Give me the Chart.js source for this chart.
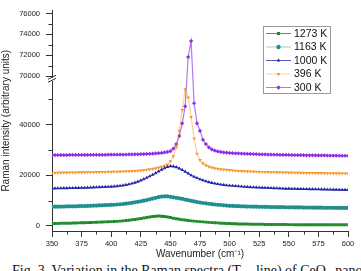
<!DOCTYPE html>
<html>
<head>
<meta charset="utf-8">
<script src="https://cdn.jsdelivr.net/npm/chart.js@4.4.1/dist/chart.umd.min.js"></script>
<style>
  body { margin: 0; background: #fff; width: 361px; height: 271px; overflow: hidden; position: relative; }
  #wrap { position: absolute; left: 0; top: 0; width: 361px; height: 262px; }
  #caption { position: absolute; left: 12px; top: 263px; font: 14px "Liberation Serif", "Times New Roman", serif; line-height: 15px; white-space: nowrap; color: #111; }
</style>
</head>
<body>
<div id="wrap"><canvas id="grafico"></canvas></div>
<div id="caption">Fig. 3. Variation in the Raman spectra (T<sub>2g</sub> line) of CeO<sub>2</sub> nanoparticles</div>
<script>
// sampling grid of the spectra (cm-1)
const wavenumbers = [];
for (let w = 350; w <= 600; w += 2.5) wavenumbers.push(w);

const seriesLabels = ['1273 K', '1163 K', '1000 K', '396 K', '300 K'];

const k1273 = [
  1000, 1000, 1000, 1050, 1050, 1100, 1100, 1150, 1150, 1200,
  1250, 1250, 1300, 1350, 1400, 1450, 1500, 1550, 1600, 1650,
  1700, 1750, 1800, 1900, 2000, 2100, 2250, 2400, 2550, 2700,
  2900, 3100, 3300, 3500, 3700, 3850, 3900, 3850, 3700, 3500,
  3300, 3050, 2850, 2650, 2450, 2300, 2150, 2000, 1900, 1800,
  1700, 1600, 1500, 1400, 1300, 1250, 1200, 1100, 1050, 1000,
  950, 900, 850, 800, 780, 750, 720, 700, 680, 660,
  640, 620, 600, 590, 580, 570, 560, 550, 540, 530,
  520, 510, 500, 500, 490, 490, 480, 480, 470, 470,
  470, 460, 460, 460, 450, 450, 450, 450, 440, 440,
  440
];
const k1163 = [
  7600, 7600, 7600, 7650, 7650, 7700, 7700, 7750, 7750, 7800,
  7850, 7850, 7900, 7950, 8000, 8050, 8100, 8150, 8200, 8250,
  8300, 8350, 8450, 8550, 8650, 8800, 8950, 9100, 9300, 9500,
  9700, 9950, 10200, 10500, 10800, 11100, 11400, 11600, 11700, 11650,
  11500, 11300, 11100, 10900, 10650, 10400, 10150, 9900, 9650, 9450,
  9250, 9050, 8900, 8750, 8600, 8450, 8350, 8250, 8150, 8050,
  7950, 7900, 7850, 7800, 7750, 7700, 7650, 7650, 7600, 7600,
  7550, 7550, 7500, 7500, 7450, 7450, 7400, 7400, 7400, 7350,
  7350, 7350, 7300, 7300, 7300, 7250, 7250, 7250, 7200, 7200,
  7200, 7200, 7150, 7150, 7150, 7150, 7100, 7100, 7100, 7100,
  7100
];
const k1000 = [
  14800, 14800, 14850, 14850, 14900, 14900, 14950, 14950, 15000, 15000,
  15050, 15050, 15100, 15150, 15200, 15250, 15300, 15350, 15400, 15450,
  15500, 15600, 15700, 15850, 16000, 16200, 16450, 16750, 17100, 17500,
  17950, 18450, 19000, 19600, 20200, 20800, 21500, 22200, 22800, 23300,
  23600, 23500, 23200, 22700, 22100, 21400, 20700, 20000, 19400, 18900,
  18400, 18000, 17600, 17300, 17000, 16750, 16550, 16350, 16200, 16050,
  15950, 15850, 15750, 15650, 15550, 15450, 15400, 15300, 15250, 15200,
  15150, 15100, 15050, 15000, 14950, 14900, 14850, 14800, 14750, 14700,
  14700, 14650, 14650, 14600, 14600, 14550, 14550, 14500, 14500, 14450,
  14450, 14400, 14400, 14350, 14350, 14300, 14300, 14250, 14250, 14200,
  14200
];
const k396 = [
  21000, 21000, 21000, 21050, 21050, 21050, 21100, 21100, 21100, 21150,
  21150, 21150, 21200, 21200, 21200, 21250, 21250, 21300, 21300, 21350,
  21350, 21400, 21400, 21450, 21500, 21550, 21600, 21650, 21700, 21800,
  21900, 22000, 22100, 22300, 22500, 22700, 23000, 23300, 23700, 24200,
  25500, 27500, 31000, 37500, 45700, 53900, 50700, 43000, 34500, 28500,
  26000, 24700, 23900, 23400, 23000, 22700, 22500, 22300, 22200, 22100,
  22000, 21900, 21800, 21700, 21650, 21600, 21550, 21500, 21450, 21400,
  21350, 21300, 21300, 21250, 21200, 21200, 21150, 21150, 21100, 21100,
  21050, 21050, 21000, 21000, 20950, 20950, 20900, 20900, 20900, 20850,
  20850, 20850, 20800, 20800, 20800, 20750, 20750, 20750, 20700, 20700,
  20700
];
const k300 = [
  27950, 27950, 27950, 27950, 27950, 27950, 28000, 28000, 28000, 28000,
  28000, 28000, 28000, 28000, 28050, 28050, 28050, 28050, 28050, 28100,
  28100, 28100, 28100, 28150, 28150, 28150, 28200, 28200, 28250, 28250,
  28300, 28350, 28400, 28450, 28500, 28600, 28700, 28800, 29000, 29200,
  29500, 30500, 32300, 35500, 40500, 47200, 71840, 73360, 48400, 40500,
  37500, 34000, 32300, 31000, 30200, 29700, 29400, 29200, 29000, 28900,
  28800, 28700, 28650, 28600, 28550, 28500, 28450, 28400, 28350, 28300,
  28250, 28200, 28200, 28150, 28150, 28100, 28100, 28050, 28050, 28000,
  28000, 27950, 27950, 27900, 27900, 27900, 27850, 27850, 27850, 27800,
  27800, 27800, 27800, 27750, 27750, 27750, 27750, 27700, 27700, 27700,
  27700
];

const yTickValues = [0, 20000, 40000, 70000, 72000, 74000, 76000];
const yMinorValues = [10000, 30000, 50000, 71000, 73000, 75000];
const xMinorValues = [362.5, 387.5, 412.5, 437.5, 462.5, 487.5, 512.5, 537.5, 562.5, 587.5];

// broken y axis: 1:1 below the break, stretched above 70000
function toAxis(r) {
  if (r <= 57500) return r;
  if (r >= 70000) return 59055 + (r - 70000) * 4.13;
  return 57500 + (r - 57500) * 1555 / 12500;
}

const series = [k1273, k1163, k1000, k396, k300];
const colores = ['#1f8a2a', '#1f8f8f', '#2424a8', '#f5962a', '#8e2ee6'];
const lineas = ['rgba(31,138,42,0.8)', 'rgba(31,143,143,0.45)', 'rgba(36,36,168,0.75)', 'rgba(245,150,42,0.45)', 'rgba(142,46,230,0.65)'];
const marcas = ['rect', 'circle', 'triangle', 'triangle', 'rectRot'];
const giros = [0, 0, 0, 180, 0];

const datasets = series.map((s, i) => ({
    label: seriesLabels[i],
    data: s.map((v, j) => ({ x: wavenumbers[j], y: toAxis(v) })),
    borderColor: lineas[i],
    borderWidth: 1.2,
    pointStyle: marcas[i],
    pointRotation: giros[i],
    pointRadius: 2.1,
    pointBorderWidth: 0,
    pointBackgroundColor: colores[i],
    fill: false
}));

const tickFont = { size: 7.5, family: '"Liberation Sans", Arial, sans-serif' };
const titleFont = { size: 10, family: '"Liberation Sans", Arial, sans-serif' };

const extraTicks = {
    id: 'extraTicks',
    afterDraw(chart) {
        const { ctx, chartArea, scales } = chart;
        const left = chartArea.left, bottom = chartArea.bottom;
        ctx.save();
        ctx.strokeStyle = '#333';
        ctx.lineWidth = 1;
        ctx.beginPath();
        xMinorValues.forEach(v => {
            const px = Math.round(scales.x.getPixelForValue(v)) + 0.5;
            ctx.moveTo(px, bottom);
            ctx.lineTo(px, bottom + 3.5);
        });
        yMinorValues.forEach(v => {
            const py = Math.round(scales.y.getPixelForValue(toAxis(v))) + 0.5;
            ctx.moveTo(left, py);
            ctx.lineTo(left - 3.5, py);
        });
        ctx.stroke();

        // break marks on the y axis
        const pb = scales.y.getPixelForValue(toAxis(70000));
        ctx.fillStyle = '#fff';
        ctx.fillRect(left - 2, pb + 1.5, 4, 3);
        ctx.beginPath();
        ctx.moveTo(left - 4, pb + 3); ctx.lineTo(left + 4, pb - 1);
        ctx.moveTo(left - 4, pb + 6); ctx.lineTo(left + 4, pb + 2);
        ctx.stroke();
        ctx.restore();
    }
};

const legendBox = {
    id: 'legendBox',
    afterDraw(chart) {
        const ctx = chart.ctx;
        ctx.save();
        ctx.strokeStyle = '#9a9a9a';
        ctx.lineWidth = 1;
        ctx.strokeRect(263.5, 26.5, 67, 67);
        chart.data.datasets.forEach((ds, i) => {
            const y = 33.5 + i * 13.5;
            ctx.strokeStyle = ds.borderColor;
            ctx.lineWidth = 1;
            ctx.beginPath();
            ctx.moveTo(266, y);
            ctx.lineTo(291, y);
            ctx.stroke();
            ctx.fillStyle = ds.pointBackgroundColor;
            Chart.helpers.drawPoint(ctx, { pointStyle: ds.pointStyle, rotation: ds.pointRotation, radius: 2.2, borderWidth: 0 }, 278.5, y);
            ctx.fillStyle = '#111';
            ctx.font = '10.5px "Liberation Sans", Arial, sans-serif';
            ctx.textBaseline = 'middle';
            ctx.fillText(ds.label, 294, y + 0.5);
        });
        ctx.restore();
    }
};

const ctx = document.getElementById('grafico').getContext('2d');
const chart = new Chart(ctx, {
    type: 'line',
    data: { datasets: datasets },
    plugins: [extraTicks, legendBox],
    options: {
        responsive: true,
        maintainAspectRatio: false,
        animation: false,
        layout: { padding: { left: 0, right: 13, top: 10, bottom: 0 } },
        plugins: { legend: { display: false }, tooltip: { enabled: false } },
        scales: {
            x: {
                type: 'linear',
                min: 350,
                max: 600,
                afterFit: s => { s.height = 31; },
                ticks: { stepSize: 25, autoSkip: false, maxRotation: 0, padding: 2, color: '#222', font: tickFont },
                grid: { drawOnChartArea: false, tickLength: 6, color: '#333' },
                border: { color: '#333' },
                title: { display: true, text: 'Wavenumber (cm\u207B\u00B9)', color: '#222', font: titleFont, padding: { top: 0, bottom: 1.5 } }
            },
            y: {
                type: 'linear',
                min: -2000,
                max: 85000,
                afterFit: s => { s.width = 52; },
                afterBuildTicks: s => { s.ticks = yTickValues.map(v => ({ value: toAxis(v) })); },
                ticks: { autoSkip: false, padding: 6, color: '#222', font: tickFont, callback: (v, i) => String(yTickValues[i]) },
                grid: { drawOnChartArea: false, tickLength: 6, color: '#333' },
                border: { color: '#333' },
                title: { display: true, text: 'Raman intensity (arbitrary units)', color: '#222', font: titleFont, padding: { top: 0, bottom: 0 } }
            }
        }
    }
});
</script>
</body>
</html>
